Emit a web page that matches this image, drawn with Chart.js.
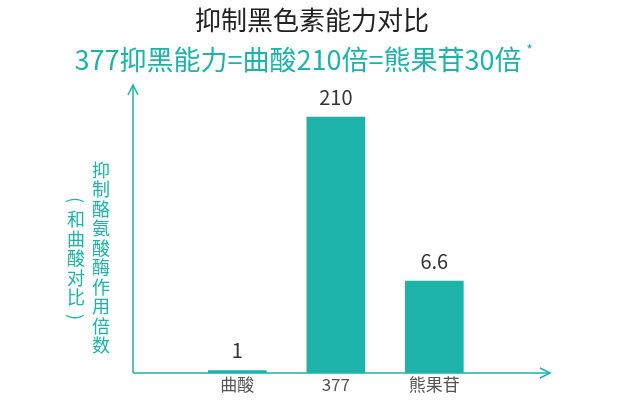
<!DOCTYPE html><html><head><meta charset="utf-8">
<script src="https://cdn.jsdelivr.net/npm/chart.js@4"></script>
<style>body{margin:0;background:#fff}</style></head><body>
<canvas id="c" width="624" height="420"></canvas>
<script>
const categories=['曲酸','377','熊果苷'];
const values=[1,210,6.6];
const valueLabels=['1','210','6.6'];
const title='抑制黑色素能力对比';
const subtitle='377抑黑能力=曲酸210倍=熊果苷30倍';
const yLabel1='抑制酪氨酸酶作用倍数';
const yLabel2='（和曲酸对比）';
const teal='#1db3a8';
const F='"Noto Sans CJK SC","Noto Sans",sans-serif';
const deco={id:'deco',afterDraw(ch){
 const c=ch.ctx,a=ch.chartArea,xs=ch.scales.x;
 c.save();
 c.strokeStyle=teal;c.fillStyle=teal;c.lineWidth=1.5;
 c.beginPath();c.moveTo(a.left,a.bottom);c.lineTo(a.left,a.top);c.moveTo(a.left,a.bottom);c.lineTo(a.right,a.bottom);c.stroke();
 c.beginPath();c.moveTo(a.left-5,a.top+10);c.lineTo(a.left,a.top);c.lineTo(a.left+5,a.top+10);c.stroke();
 c.beginPath();c.moveTo(a.right-10,a.bottom-5);c.lineTo(a.right,a.bottom);c.lineTo(a.right-10,a.bottom+5);c.stroke();
 c.textAlign='center';c.textBaseline='middle';
 c.fillStyle='#222';c.font='26px '+F;c.fillText(title,312,20);
 c.fillStyle=teal;c.font='27px '+F;c.fillText(subtitle,298,60);
 const w=c.measureText(subtitle).width;c.font='14px '+F;c.fillText('*',298+w/2+8,50);
 c.fillStyle='#555';c.font='17px '+F;
 categories.forEach((t,i)=>c.fillText(t,xs.getPixelForValue(i+1),385));
 c.fillStyle='#333';c.font='20px '+F;
 values.forEach((v,i)=>{const el=ch.getDatasetMeta(0).data[i];c.fillText(valueLabels[i],xs.getPixelForValue(i+1),el.y-20);});
 c.fillStyle=teal;c.font='18px '+F;
 [...yLabel1].forEach((ch2,i)=>c.fillText(ch2,101,170+i*19.5));
 [...yLabel2].forEach((ch2,i)=>{const y=200+i*19.5;if(ch2==='（'||ch2==='）'){c.save();c.translate(76,y);c.rotate(Math.PI/2);c.fillText(ch2==='（'?'(':')',0,0);c.restore();}else c.fillText(ch2,76,y);});
 c.restore();}};
new Chart(document.getElementById('c'),{type:'bar',
 data:{datasets:[{data:values.map((v,i)=>({x:i+1,y:v})),backgroundColor:teal,barThickness:58,minBarLength:2}]},
 options:{responsive:false,animation:false,events:[],
  layout:{padding:{left:133,right:74,top:85,bottom:47}},
  plugins:{legend:{display:false},tooltip:{enabled:false}},
  scales:{x:{type:'linear',min:0.205,max:3.91,display:false},
   y:{type:'logarithmic',min:0.95,max:412,display:false}}},
 plugins:[deco]});
</script></body></html>
